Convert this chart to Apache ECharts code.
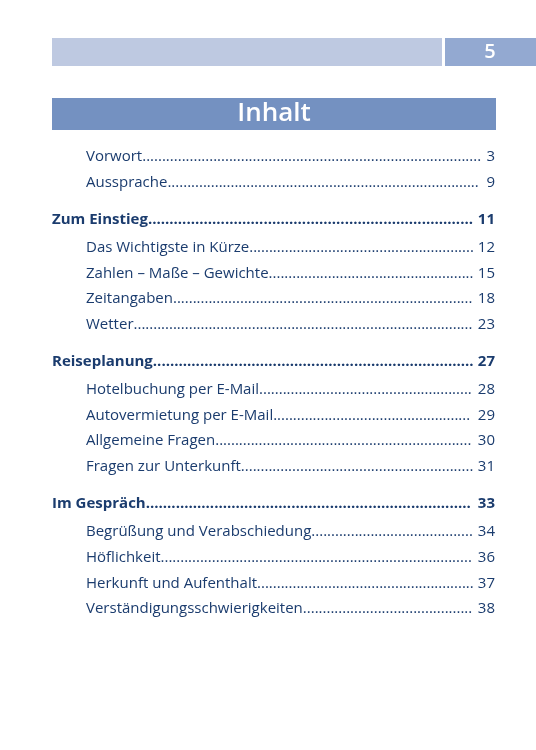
<!DOCTYPE html>
<html>
<head>
<meta charset="utf-8">
<script src="https://cdn.jsdelivr.net/npm/echarts@6/dist/echarts.min.js"></script>
<style>html,body{margin:0;padding:0;background:#fff}</style>
</head>
<body>
<div id="main" style="width:536px;height:750px;"></div>
<script type="text/javascript">
// Inhaltsverzeichnis
var titles = ["Vorwort", "Aussprache", "Zum Einstieg", "Das Wichtigste in Kürze", "Zahlen – Maße – Gewichte", "Zeitangaben", "Wetter",
	"Reiseplanung", "Hotelbuchung per E-Mail", "Autovermietung per E-Mail", "Allgemeine Fragen", "Fragen zur Unterkunft",
	"Im Gespräch", "Begrüßung und Verabschiedung", "Höflichkeit", "Herkunft und Aufenthalt", "Verständigungsschwierigkeiten"];
var pages = [3, 9, 11, 12, 15, 18, 23, 27, 28, 29, 30, 31, 33, 34, 36, 37, 38];
var levels = [1, 1, 0, 1, 1, 1, 1, 0, 1, 1, 1, 1, 0, 1, 1, 1, 1];
var pageNo = "5";
var heading = "Inhalt";

var chart = echarts.init(document.getElementById('main'));
var font = "Open Sans";
var color = "#1b3c6e";
var ctx = document.createElement('canvas').getContext('2d');

function dotsFor(text, weight, left, right, pageText) {
	ctx.font = weight + " 15px '" + font + "'";
	var w = ctx.measureText(text).width + ctx.measureText(pageText).width;
	var dw = ctx.measureText(".").width;
	var n = Math.max(0, Math.floor((right - left - w - 4) / dw));
	return new Array(n + 1).join(".");
}

var elements = [
	{type: 'rect', shape: {x: 52, y: 38, width: 390, height: 28}, style: {fill: '#bec9e1'}},
	{type: 'rect', shape: {x: 445, y: 38, width: 91, height: 28}, style: {fill: '#93a9d1'}},
	{type: 'text', x: 490, y: 52, style: {text: pageNo, fill: '#fff', font: "600 20px '" + font + "'", align: 'center', verticalAlign: 'middle'}},
	{type: 'rect', shape: {x: 52, y: 98, width: 444, height: 32}, style: {fill: '#7491c1'}},
	{type: 'text', x: 274, y: 114, style: {text: heading, fill: '#fff', font: "600 26px '" + font + "'", align: 'center', verticalAlign: 'middle'}}
];

var y = 157;
for (var i = 0; i < titles.length; i++) {
	if (i > 0) {
		if (levels[i] === 0) y += 37;
		else if (levels[i - 1] === 0) y += 28;
		else y += 25.7;
	}
	var left = levels[i] === 0 ? 52 : 86;
	var weight = levels[i] === 0 ? "bold" : "normal";
	var p = String(pages[i]);
	var dots = dotsFor(titles[i], weight, left, 495, p);
	elements.push({type: 'text', x: left, y: y, style: {text: titles[i] + dots, fill: color, font: weight + " 15px '" + font + "'", align: 'left', verticalAlign: 'middle'}});
	elements.push({type: 'text', x: 495, y: y, style: {text: p, fill: color, font: weight + " 15px '" + font + "'", align: 'right', verticalAlign: 'middle'}});
}

chart.setOption({graphic: {elements: elements}});
</script>
</body>
</html>
